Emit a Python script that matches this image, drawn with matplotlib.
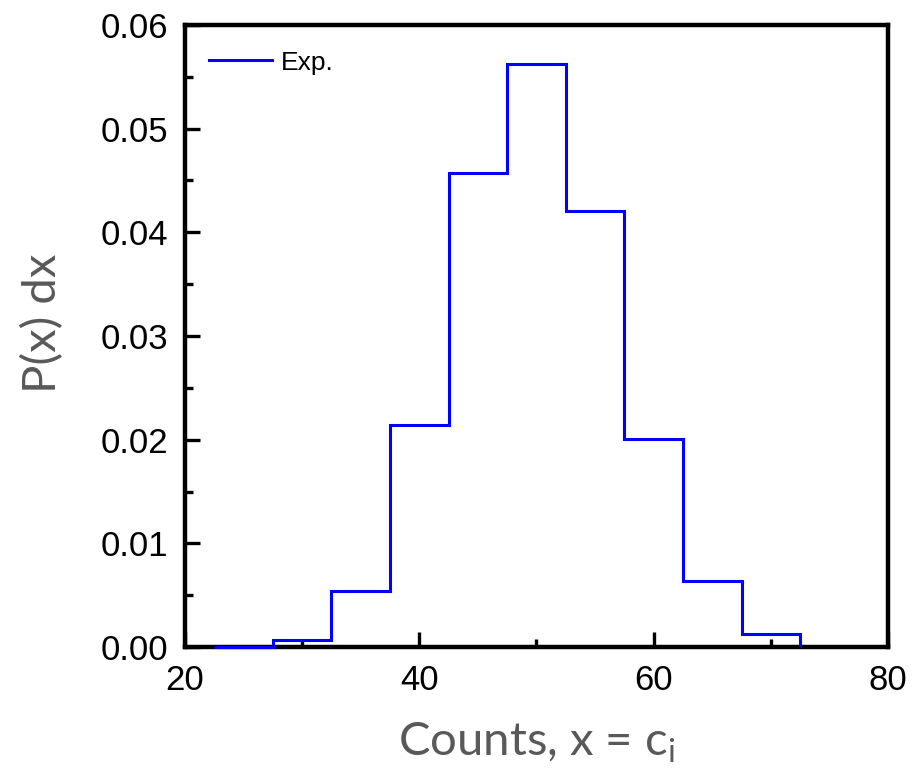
import numpy as np
import matplotlib
matplotlib.use("Agg")
import matplotlib.pyplot as plt
from matplotlib.ticker import MultipleLocator

# Histogram of counts (bin width 5, normalised density)
bin_edges = [22.5, 27.5, 32.5, 37.5, 42.5, 47.5, 52.5, 57.5, 62.5, 67.5, 72.5]
density = [0.0, 0.0007, 0.0054, 0.0214, 0.0457, 0.0562, 0.0421, 0.0201, 0.0064, 0.0013]

x_ticks = [20, 40, 60, 80]
y_ticks = [0.00, 0.01, 0.02, 0.03, 0.04, 0.05, 0.06]

fig = plt.figure(figsize=(9.17, 7.71), dpi=100)
ax = fig.add_axes([0.2017, 0.1608, 0.7667, 0.8068])

ax.stairs(density, bin_edges, baseline=0, color="#0000ff", lw=2.2,
          label="Exp.", zorder=3, clip_on=False)

ax.set_xlim(20, 80)
ax.set_ylim(0, 0.06)
ax.set_xticks(x_ticks)
ax.set_yticks(y_ticks)
ax.set_yticklabels([f"{v:.2f}" for v in y_ticks])
ax.xaxis.set_minor_locator(MultipleLocator(10))
ax.yaxis.set_minor_locator(MultipleLocator(0.005))

for s in ax.spines.values():
    s.set_linewidth(3.2)

ax.tick_params(which="both", direction="in", top=False, right=False)
ax.tick_params(which="major", length=11, width=2.4, labelsize=25, pad=12)
ax.tick_params(which="minor", length=6, width=2.4)
for lab in ax.get_xticklabels() + ax.get_yticklabels():
    lab.set_fontfamily("Liberation Sans")

label_color = "#595959"
ax.set_xlabel("Counts, x = c$_\\mathregular{i}$", fontsize=34, family="Lato",
              color=label_color, labelpad=17)
ax.set_ylabel("P(x) dx", fontsize=34, family="Lato", color=label_color)
ax.yaxis.set_label_coords(-0.172, 0.52)

leg = ax.legend(loc="upper left", bbox_to_anchor=(0.0, 0.997), frameon=False,
                handlelength=2.4, handletextpad=0.35,
                prop={"family": "Liberation Sans", "size": 19})

fig.savefig("out.png", dpi=100)
